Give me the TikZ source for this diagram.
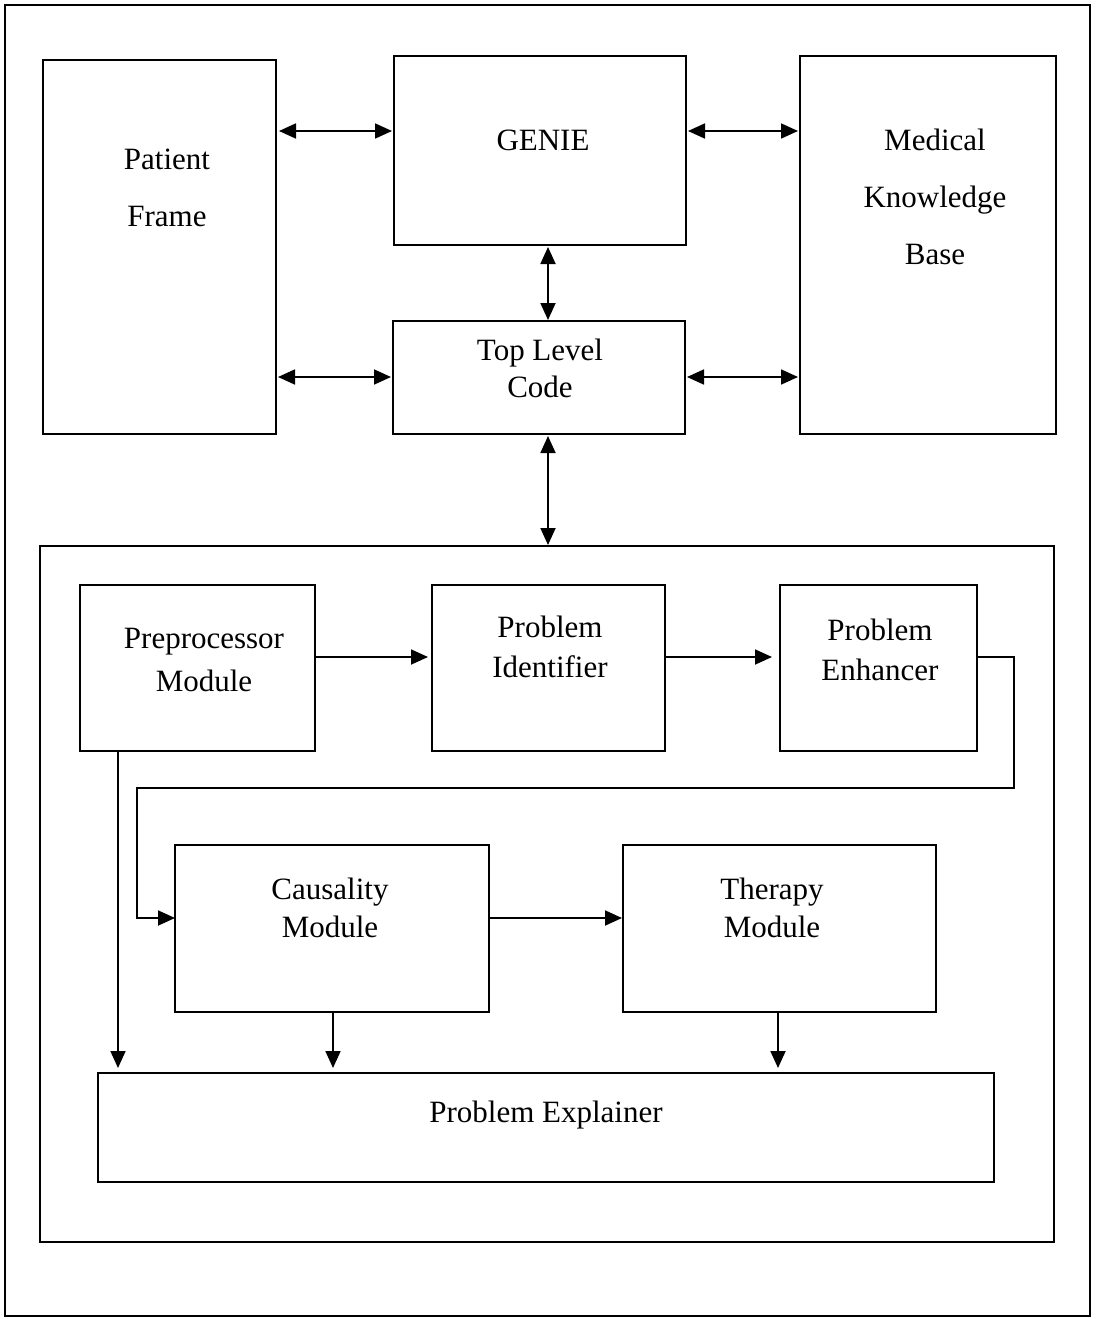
\documentclass[tikz,border=0pt]{standalone}
\usepackage{fontspec}
\setmainfont{Liberation Serif}
\usetikzlibrary{arrows.meta}
\begin{document}
\begin{tikzpicture}[x=1pt,y=-1pt,
  box/.style={draw,line width=2pt,inner sep=0pt,outer sep=0pt},
  lbl/.style={align=center,inner sep=0pt,font=\fontsize{31}{40}\selectfont},
  lblbig/.style={align=center,inner sep=0pt,font=\fontsize{31}{57}\selectfont},
  arr/.style={line width=1.8pt,-{Triangle[length=17pt,width=15pt]}},
  darr/.style={line width=1.8pt,{Triangle[length=17pt,width=15pt]}-{Triangle[length=17pt,width=15pt]}}
]
\useasboundingbox (0,0) rectangle (1096,1319);
\draw[line width=2pt] (5,5) rectangle (1090,1316);

% top boxes
\node[box,minimum width=233pt,minimum height=374pt] (pf) at (159.5,247) {};
\node[box,minimum width=292pt,minimum height=189pt] (genie) at (540,150.5) {};
\node[box,minimum width=256pt,minimum height=378pt] (mkb) at (928,245) {};
\node[box,minimum width=292pt,minimum height=113pt] (tlc) at (539,377.5) {};
\node[box,minimum width=1014pt,minimum height=696pt] (cont) at (547,894) {};

% inner boxes
\node[box,minimum width=235pt,minimum height=166pt] (pre) at (197.5,668) {};
\node[box,minimum width=233pt,minimum height=166pt] (pid) at (548.5,668) {};
\node[box,minimum width=197pt,minimum height=166pt] (pen) at (878.5,668) {};
\node[box,minimum width=314pt,minimum height=167pt] (caus) at (332,928.5) {};
\node[box,minimum width=313pt,minimum height=167pt] (ther) at (779.5,928.5) {};
\node[box,minimum width=896pt,minimum height=109pt] (expl) at (546,1127.5) {};

% labels
\node[lblbig] (tpf) at (167,188) {Patient\\Frame};
\node[lbl] (tgenie) at (543,140) {GENIE};
\node[lblbig] (tmkb) at (935,197) {Medical\\Knowledge\\Base};
\node[lbl,font=\fontsize{31}{37}\selectfont] (ttlc) at (540,368) {Top Level\\Code};
\node[lbl,font=\fontsize{31}{43}\selectfont] (tpre) at (204,660) {Preprocessor\\Module};
\node[lbl] (tpid) at (550,647) {Problem\\Identifier};
\node[lbl] (tpen) at (880,650) {Problem\\Enhancer};
\node[lbl,font=\fontsize{31}{38}\selectfont] (tcaus) at (330,908) {Causality\\Module};
\node[lbl,font=\fontsize{31}{38}\selectfont] (tther) at (772,908) {Therapy\\Module};
\node[lbl] (texpl) at (546,1115) {Problem Explainer};

% helper coordinates
\coordinate (yA) at (0,131);
\coordinate (yB) at (0,377);
\coordinate (xC) at (548,0);
\coordinate (yD) at (0,657);
\coordinate (yE) at (0,918);
\coordinate (c1) at (1014,657);
\coordinate (c2) at (1014,788);
\coordinate (c3) at (137,788);
\coordinate (c4) at (137,918);
\coordinate (xP) at (118,0);
\coordinate (xQ) at (333,0);
\coordinate (xR) at (778,0);

% top connectors
\draw[darr,shorten <=3pt,shorten >=2pt] (pf.east |- yA) -- (genie.west |- yA);
\draw[darr,shorten <=2pt,shorten >=2pt] (genie.east |- yA) -- (mkb.west |- yA);
\draw[darr,shorten <=2pt,shorten >=1pt] (genie.south -| xC) -- (tlc.north -| xC);
\draw[darr,shorten <=2pt,shorten >=2pt] (pf.east |- yB) -- (tlc.west |- yB);
\draw[darr,shorten <=2pt,shorten >=2pt] (tlc.east |- yB) -- (mkb.west |- yB);
\draw[darr,shorten <=2pt,shorten >=1pt] (tlc.south -| xC) -- (cont.north -| xC);

% inner connectors
\draw[arr,shorten >=4pt] (pre.east |- yD) -- (pid.west |- yD);
\draw[arr,shorten >=8pt] (pid.east |- yD) -- (pen.west |- yD);
\draw[arr,line join=miter] (pen.east |- yD) -- (c1) -- (c2) -- (c3) -- (c4) -- (caus.west |- yE);
\draw[arr,shorten >=1pt] (caus.east |- yE) -- (ther.west |- yE);
\draw[arr,shorten >=5pt] (pre.south -| xP) -- (expl.north -| xP);
\draw[arr,shorten >=5pt] (caus.south -| xQ) -- (expl.north -| xQ);
\draw[arr,shorten >=5pt] (ther.south -| xR) -- (expl.north -| xR);
\end{tikzpicture}
\end{document}
